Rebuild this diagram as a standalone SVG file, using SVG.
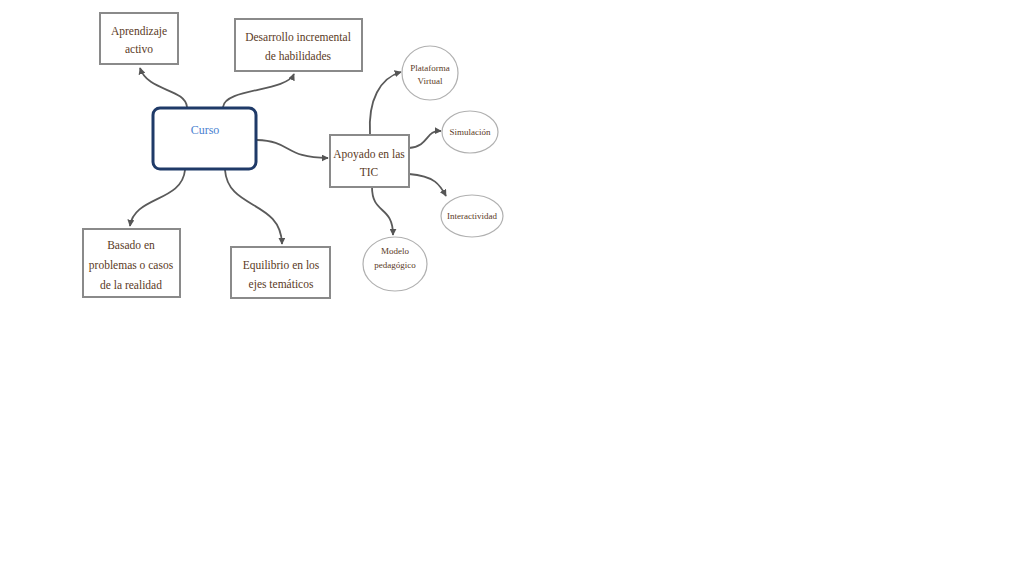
<svg xmlns="http://www.w3.org/2000/svg" width="1024" height="576" viewBox="0 0 1024 576">
<defs>
<marker id="arr" viewBox="0 0 10 10" refX="9" refY="5" markerWidth="7" markerHeight="7" orient="auto" markerUnits="userSpaceOnUse">
<path d="M0,0 L10,5 L0,10 z" fill="#555"/>
</marker>
<style>
.box{fill:#fff;stroke:#8a8a8a;stroke-width:2}
.ell{fill:#fff;stroke:#b0b0b0;stroke-width:1.2}
.t{font-family:"Liberation Serif",serif;font-size:11.5px;fill:#5a3a1e;text-anchor:middle}
.ts{font-family:"Liberation Serif",serif;font-size:9px;fill:#5a3a1e;text-anchor:middle}
.c{fill:none;stroke:#5a5a5a;stroke-width:1.8;marker-end:url(#arr)}
</style>
</defs>
<rect width="1024" height="576" fill="#fff"/>
<g id="connectors">
<path class="c" d="M187,107 C185,88 148,92 140,68"/>
<path class="c" d="M223,107 C225,88 286,92 294,74"/>
<path class="c" d="M257,140 C292,141 284,158 328,158"/>
<path class="c" d="M185,170 C182,202 134,196 130,226"/>
<path class="c" d="M225,170 C228,210 281,200 282,244"/>
<path class="c" d="M370,134 C368,100 380,78 401,72"/>
<path class="c" d="M409,148 C430,146 425,130 441,131"/>
<path class="c" d="M409,174 C435,176 440,185 446,196"/>
<path class="c" d="M372,187 C372,215 393,205 393,235"/>
</g>
<g id="aprendizaje">
<rect class="box" x="100" y="13" width="78" height="51"/>
<text class="t" x="139" y="35">Aprendizaje</text>
<text class="t" x="139" y="53">activo</text>
</g>
<g id="desarrollo">
<rect class="box" x="235" y="19" width="127" height="52"/>
<text class="t" x="298" y="41">Desarrollo incremental</text>
<text class="t" x="298" y="60">de habilidades</text>
</g>
<g id="curso">
<rect x="153" y="108" width="103" height="61" rx="7" fill="#fff" stroke="#1f3a68" stroke-width="3"/>
<text x="205" y="134" font-family="Liberation Serif,serif" font-size="12" fill="#4a7fd0" text-anchor="middle">Curso</text>
</g>
<g id="apoyado">
<rect class="box" x="330" y="135" width="79" height="52"/>
<text class="t" x="369" y="158">Apoyado en las</text>
<text class="t" x="369" y="176">TIC</text>
</g>
<g id="plataforma">
<ellipse class="ell" cx="430" cy="73" rx="28" ry="27"/>
<text class="ts" x="430" y="71">Plataforma</text>
<text class="ts" x="430" y="84">Virtual</text>
</g>
<g id="simulacion">
<ellipse class="ell" cx="470" cy="132" rx="28" ry="21"/>
<text class="ts" x="470" y="135">Simulación</text>
</g>
<g id="interactividad">
<ellipse class="ell" cx="472" cy="216" rx="31" ry="21"/>
<text class="ts" x="472" y="219">Interactividad</text>
</g>
<g id="modelo">
<ellipse class="ell" cx="395" cy="264" rx="32" ry="27"/>
<text class="ts" x="395" y="254">Modelo</text>
<text class="ts" x="395" y="268">pedagógico</text>
</g>
<g id="basado">
<rect class="box" x="83" y="229" width="97" height="68"/>
<text class="t" x="131" y="249">Basado en</text>
<text class="t" x="131" y="269">problemas o casos</text>
<text class="t" x="131" y="289">de la realidad</text>
</g>
<g id="equilibrio">
<rect class="box" x="231" y="247" width="99" height="51"/>
<text class="t" x="281" y="269">Equilibrio en los</text>
<text class="t" x="281" y="288">ejes temáticos</text>
</g>
</svg>
